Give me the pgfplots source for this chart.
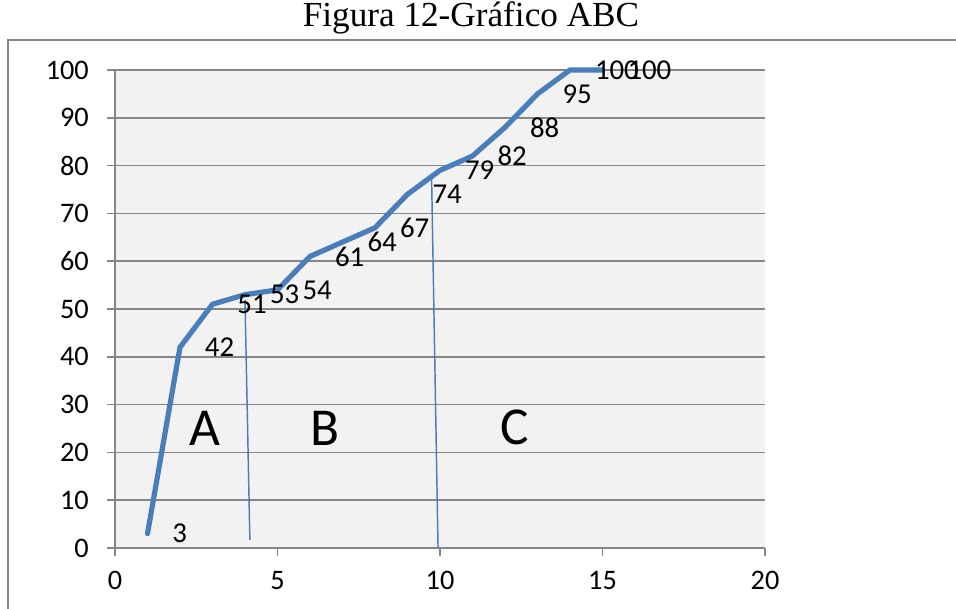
\documentclass[border=0pt]{standalone}
\usepackage{fontspec}
\setmainfont{Liberation Serif}
\newfontfamily\calibri{Carlito}
\usepackage{pgfplots}
\pgfplotsset{compat=1.18}
\definecolor{serie}{HTML}{4A7EBB}
\definecolor{grade}{HTML}{868686}
\definecolor{fundo}{HTML}{F2F2F2}
\begin{document}
\begin{tikzpicture}
\useasboundingbox (-43.125pt,-22.5pt) rectangle (315.375pt,205.5pt);
\draw[grade, line width=0.4pt] (-40.125pt,-30pt) -- (-40.125pt,190.5pt) -- (320pt,190.5pt);
\node[font=\fontsize{13.2}{15}\selectfont] at (133.5pt,198.75pt) {Figura 12-Gráfico ABC};
\begin{axis}[at={(0,0)}, anchor=south west,
  width=243.75pt, height=179.25pt, scale only axis,
  xmin=0, xmax=20, ymin=0, ymax=100,
  xtick={0,5,...,20}, ytick={0,10,...,100},
  axis x line*=bottom, axis y line*=left,
  axis line style={grade, line width=0.56pt, -},
  ymajorgrids, major grid style={grade, line width=0.56pt},
  tick style={grade, line width=0.56pt},
  tick align=outside, major tick length=3pt,
  axis background/.style={fill=fundo},
  ticklabel style={font=\calibri\fontsize{10.6}{13}\selectfont},
  yticklabel style={xshift=-3.3pt},
  xticklabel style={yshift=-2.3pt},
  /pgf/number format/assume math mode=true,
  clip=false]
\addplot[serie, line width=1.95pt, line join=round, line cap=round,
  nodes near coords, point meta=y,
  nodes near coords style={anchor=west, inner sep=0pt, xshift=8.4pt, text=black, font=\calibri\fontsize{10.8}{13}\selectfont}]
  coordinates {(1,3) (2,42) (3,51) (4,53) (5,54) (6,61) (7,64) (8,67) (9,74) (10,79) (11,82) (12,88) (13,95) (14,100) (15,100)};
\addplot[serie, line width=0.55pt] coordinates {(4.0,51.9) (4.15,1.7)};
\addplot[serie, line width=0.55pt] coordinates {(9.74,78) (9.94,0)};
\node[font=\calibri\fontsize{20}{24}\selectfont] at (axis cs:2.77,25.1) {A};
\node[font=\calibri\fontsize{20}{24}\selectfont] at (axis cs:6.46,25.1) {B};
\node[font=\calibri\fontsize{20}{24}\selectfont] at (axis cs:12.31,25.3) {C};
\end{axis}
\end{tikzpicture}
\end{document}
